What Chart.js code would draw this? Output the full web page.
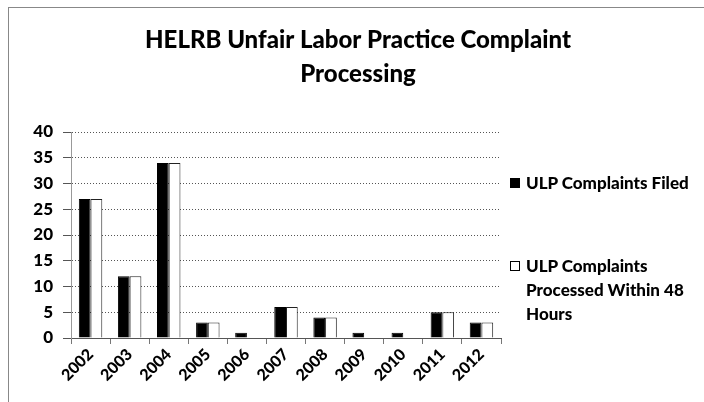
<!DOCTYPE html>
<html>
<head>
<meta charset="utf-8">
<script src="https://cdn.jsdelivr.net/npm/chart.js@4.4.1/dist/chart.umd.min.js"></script>
<style>
  html, body { margin: 0; padding: 0; background: #fff; overflow: hidden; }
  #wrap { position: relative; width: 704px; height: 402px; }
  #frame { position: absolute; left: 8px; top: 7px; width: 800px; height: 500px; border: 1px solid #888; }
  #chart { position: absolute; left: 0; top: 0; }
  .legend { position: absolute; left: 510px; font: 900 17px Lato, sans-serif; color: #000; line-height: 24px; white-space: nowrap; }
  .legend .box { position: absolute; left: 0; top: 7px; width: 10px; height: 10px; border: 1px solid #000; box-sizing: border-box; }
  .legend .txt { margin-left: 16px; }
</style>
</head>
<body>
<div id="wrap">
  <div id="frame"></div>
  <canvas id="chart" width="704" height="402"></canvas>
  <div class="legend" style="top:171px"><span class="box" style="background:#000"></span><div class="txt">ULP Complaints Filed</div></div>
  <div class="legend" style="top:254px"><span class="box" style="background:#fff"></span><div class="txt">ULP Complaints<br>Processed Within 48<br>Hours</div></div>
</div>
<script>
const years = ["2002", "2003", "2004", "2005", "2006", "2007", "2008", "2009", "2010", "2011", "2012"];
const filed = [27, 12, 34, 3, 1, 6, 4, 1, 1, 5, 3];
const processed48 = [27, 12, 34, 3, 0, 6, 4, 0, 0, 5, 3];
const yTicks = [0, 5, 10, 15, 20, 25, 30, 35, 40];

const font = "Lato";

new Chart(document.getElementById("chart"), {
  type: "bar",
  data: {
    labels: years,
    datasets: [
      {
        label: "ULP Complaints Filed",
        data: filed,
        backgroundColor: "#000",
        borderColor: "#000",
        borderWidth: 1,
      },
      {
        label: "ULP Complaints Processed Within 48 Hours",
        data: processed48,
        backgroundColor: "#fff",
        borderColor: "#222",
        borderWidth: 1,
      },
    ],
  },
  options: {
    responsive: false,
    animation: false,
    events: [],
    categoryPercentage: 0.6,
    barPercentage: 1.0,
    layout: {
      padding: { left: 12, right: 0, top: 0, bottom: 0 },
    },
    plugins: {
      legend: { display: false },
      tooltip: { enabled: false },
      title: {
        display: true,
        text: ["HELRB Unfair Labor Practice Complaint", "Processing"],
        color: "#000",
        font: { family: font, size: 24, weight: "900", lineHeight: "34px" },
        padding: { top: 23, bottom: 41 },
      },
    },
    scales: {
      x: {
        afterFit: (s) => { s.height = 64; },
        grid: {
          offset: true,
          drawOnChartArea: false,
          tickLength: 6,
          color: "#777",
        },
        border: { color: "#555", dash: [1, 2] },
        ticks: {
          color: "#000",
          minRotation: 45,
          maxRotation: 45,
          padding: 1,
          font: { family: font, size: 16, weight: "900" },
        },
      },
      y: {
        min: 0,
        max: 40,
        afterFit: (s) => { s.width = 59; },
        afterBuildTicks: (s) => { s.ticks = yTicks.map((v) => ({ value: v })); },
        grid: {
          color: "#555",
          tickLength: 8,
        },
        border: { color: "#999", width: 1, dash: [1, 2] },
        ticks: {
          color: "#000",
          padding: 10,
          font: { family: font, size: 17, weight: "900" },
        },
      },
      y2: {
        position: "right",
        display: true,
        afterFit: (s) => { s.width = 203; },
        grid: { display: false, drawOnChartArea: false },
        border: { display: false },
        ticks: { display: false },
      },
    },
  },
});
</script>
</body>
</html>
